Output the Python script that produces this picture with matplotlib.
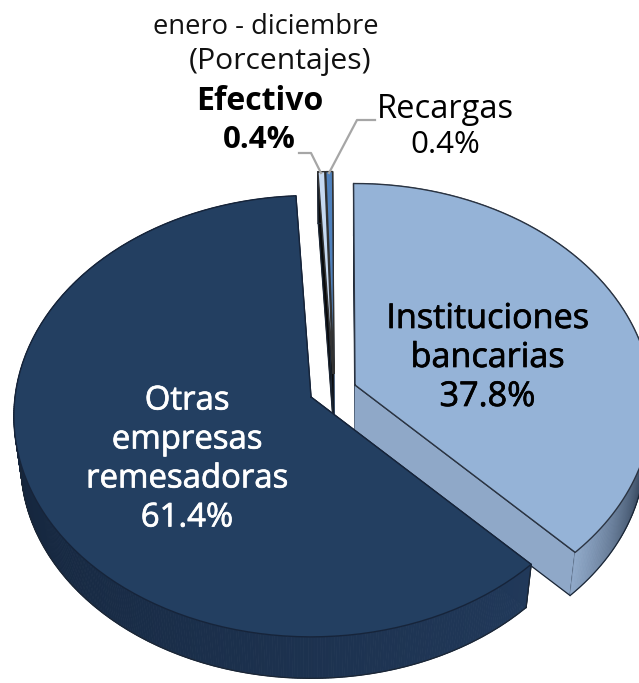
import numpy as np
import matplotlib.pyplot as plt
import matplotlib.patheffects as pe
from matplotlib.colors import to_rgb

# clockwise from the top
categories = ["Instituciones bancarias", "Otras empresas remesadoras", "Efectivo", "Recargas"]
shares = [37.8, 61.4, 0.4, 0.4]

top_colors = ["#95B3D7", "#233F61", "#C6D9F1", "#4F81BD"]
wall_near = ["#8FA8C8", "#21395A", "#0A0A0A", "#2F5587"]
wall_far = ["#3C4D64", "#132339", "#0A0A0A", "#2F5587"]
edge_colors = ["#2B3442", "#16243A", "#333333", "#333333"]
apex = [(355, 385), (311, 397), (333, 373), (334, 373)]

START = -0.3
RX, RY, K = 296, 219, 0.087
DEPTH, SHRINK = 47, 0.977


def project(theta, center, lower=False):
    """theta in degrees clockwise from the top, gives pixel x, y on the tilted disc"""
    t = np.radians(theta)
    u, v = np.sin(t), -np.cos(t)
    d = 1 - K * v
    x, y = RX * u / d, RY * v / d
    if lower:
        return center[0] + SHRINK * x, center[1] + SHRINK * y + DEPTH
    return center[0] + x, center[1] + y


def draw_slice(ax, t1, t2, center, top, near, far, edge):
    # walls first, the top face then hides whatever faces away
    cx, cy = center
    for t in (t1, t2):
        xa, ya = project(t, center)
        xb, yb = project(t, center, lower=True)
        ax.fill([cx, xa, xb, cx], [cy, ya, yb, cy + DEPTH], color=near, lw=0.5, zorder=ax.z)
        ax.plot([cx, xa, xb, cx], [cy, ya, yb, cy + DEPTH], color="#1B2635", lw=0.9, zorder=ax.z)
    ax.z += 1

    edges = np.linspace(t1, t2, max(int(t2 - t1) * 2, 3))
    c_near, c_far = np.array(to_rgb(near)), np.array(to_rgb(far))
    for a, b in zip(edges[:-1], edges[1:]):
        mid = (a + b) / 2
        f = min(abs(mid - 135.5) / 26, 1) if t1 < 100 else min(abs(mid - 135.5) / 140, 1)
        xa, ya = project(a, center)
        xb, yb = project(b, center)
        xc, yc = project(b, center, lower=True)
        xd, yd = project(a, center, lower=True)
        ax.fill([xa, xb, xc, xd], [ya, yb, yc, yd], color=c_near * (1 - f) + c_far * f, lw=0.6, zorder=ax.z)

    t = np.linspace(t1, t2, 200)
    xs, ys = project(t, center, lower=True)
    ax.plot(xs, ys, color="#1B2635", lw=0.9, zorder=ax.z)
    x_end, y_end = project(t1, center)
    xb_end, yb_end = project(t1, center, lower=True)
    ax.plot([x_end, xb_end], [y_end, yb_end], color="#1B2635", lw=0.9, zorder=ax.z)
    ax.z += 1

    xs, ys = project(t, center)
    ax.fill(np.r_[cx, xs], np.r_[cy, ys], color=top, lw=0, zorder=ax.z)
    ax.plot(np.r_[cx, xs, cx], np.r_[cy, ys, cy], color=edge, lw=1.0, zorder=ax.z)
    ax.z += 1


fig = plt.figure(figsize=(6.39, 6.83), dpi=100)
ax = fig.add_axes([0, 0, 1, 1])
ax.set_xlim(0, 639)
ax.set_ylim(683, 0)
ax.axis("off")
ax.z = 2

bounds = START + np.r_[0, np.cumsum(shares)] / 100 * 360
# the two thin slices sit behind the large ones
for i in (3, 2, 0, 1):
    draw_slice(ax, bounds[i], bounds[i + 1], apex[i], top_colors[i], wall_near[i], wall_far[i], edge_colors[i])

ax.plot([299, 311, 321], [153, 153, 173], color="#A6A6A6", lw=1.6, zorder=30)
ax.plot([375, 357, 329], [120, 120, 173], color="#A6A6A6", lw=1.6, zorder=30)

plt.rcParams["font.family"] = "Open Sans"


def label(x, y, s, size, color="black", stroke=0.0, weight="normal"):
    t = ax.text(x, y, s, ha="center", va="center", fontsize=size, color=color, fontweight=weight, zorder=40)
    if stroke:
        t.set_path_effects([pe.withStroke(linewidth=stroke, foreground=color)])


label(265.5, 27, "enero - diciembre", 19.7, "#111111")
label(280, 61, "(Porcentajes)", 21.7, "#111111")
label(260, 101, "Efectivo", 23, weight="bold")
label(259.5, 140, "0.4%", 22.5, weight="bold")
label(445, 109, "Recargas", 23.5)
label(445, 145, "0.4%", 22.6)
for y, s in zip([319, 358, 397], ["Instituciones", "bancarias", "37.8%"]):
    label(487.5, y, s, 24.6, stroke=0.5)
for y, s in zip([401, 440, 479, 518], ["Otras", "empresas", "remesadoras", "61.4%"]):
    label(187, y, s, 23.7, "white", stroke=0.5)

fig.savefig("out.png", dpi=100)
